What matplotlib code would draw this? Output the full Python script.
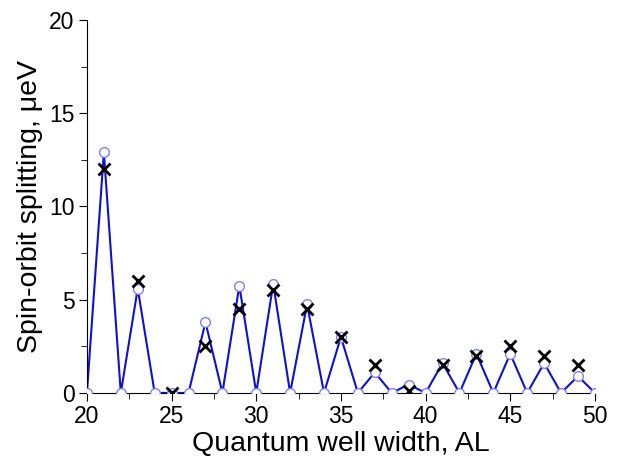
import matplotlib
matplotlib.use("Agg")
import matplotlib.pyplot as plt
from matplotlib.ticker import MultipleLocator

plt.rcParams['font.family'] = ['Liberation Sans', 'DejaVu Sans']

widths = list(range(20, 51))
calc = [0, 12.9, 0, 5.6, 0, 0, 0, 3.8, 0, 5.75, 0, 5.85, 0, 4.75, 0, 3.0,
        0, 1.1, 0, 0.45, 0, 1.6, 0, 2.1, 0, 2.1, 0, 1.6, 0, 0.9, 0]

odd_widths = list(range(21, 50, 2))
model = [12.0, 6.0, 0.0, 2.5, 4.5, 5.5, 4.5, 3.0, 1.5, 0.1, 1.5, 2.0, 2.5, 2.0, 1.5]

fig = plt.figure(figsize=(6.21, 4.65), dpi=100)
ax = fig.add_axes([0.140, 0.155, 0.818, 0.802])

ax.plot(widths, calc, '-', color='#1010d0', lw=1.5, zorder=2)
ax.plot(widths, calc, 'o', mfc='white', mec='#8080f0', ms=7, mew=1.0, zorder=3)
ax.plot(odd_widths, model, 'x', color='black', ms=8, mew=2, zorder=4)

ax.set_xlim(20, 50)
ax.set_ylim(0, 20)
ax.xaxis.set_major_locator(MultipleLocator(5))
ax.xaxis.set_minor_locator(MultipleLocator(2.5))
ax.yaxis.set_major_locator(MultipleLocator(5))
ax.yaxis.set_minor_locator(MultipleLocator(2.5))
for s in ['top', 'right']:
    ax.spines[s].set_visible(False)
ax.tick_params(which='major', direction='out', length=6, labelsize=16.5, pad=3)
ax.tick_params(which='minor', direction='out', length=4)
ax.set_xlabel('Quantum well width, AL', fontsize=20.5, labelpad=2)
ax.set_ylabel('Spin-orbit splitting, \u03bceV', fontsize=20.5, labelpad=4)

fig.savefig('out.png', dpi=100)
